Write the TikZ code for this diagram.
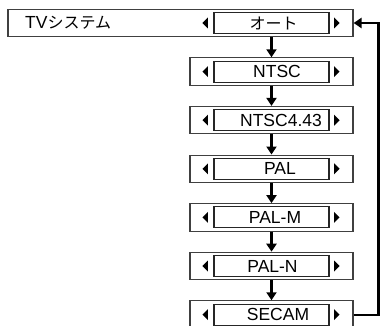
\documentclass[tikz,border=0pt]{standalone}
\usepackage{fontspec}
\setmainfont{Liberation Sans}
\newfontfamily\jpfont{Noto Sans CJK JP}
\newcommand\jp[1]{{\jpfont\fontsize{16}{18}\selectfont #1}}
\usetikzlibrary{arrows.meta, positioning}

\begin{document}
\begin{tikzpicture}[
    x=1pt, y=-1pt,
    outer/.style = {draw=black!75, line width=1.1pt, minimum width=163pt,
                    minimum height=27.5pt, inner sep=0pt},
    inner/.style = {draw=black!85, line width=1.1pt, minimum width=115pt,
                    minimum height=21pt, inner sep=0pt},
    lbl/.style = {font=\fontsize{17.5}{19}\selectfont, inner sep=0pt},
    arrow/.style = {-{Triangle[length=8pt, width=10pt]}, line width=2.2pt}
  ]
    \useasboundingbox (0,0) rectangle (380,326);
    \clip (0,0) rectangle (380,326);

    % menu line
    \node[outer, minimum width=345pt] (bar) at (180.5,23) {};
    \node[lbl, anchor=west] (name) at (25,23) {TV\jp{システム}};
    \node[inner] (v0) at (271.5,23) {};
    \node[lbl, xshift=2pt] (t0) at (v0) {\jp{オート}};

    % choices
    \foreach \i/\txt/\dx in {1/NTSC/5.5, 2/NTSC4.43/9.5, 3/PAL/8.5,
                             4/PAL-M/3.5, 5/PAL-N/1, 6/SECAM/6.5}
    {
      \node[outer] (o\i) at (271.5,23+48.6*\i) {};
      \node[inner] (v\i) at (o\i) {};
      \node[lbl, xshift=\dx pt] (t\i) at (v\i) {\txt};
    }

    % left/right marks
    \foreach \i in {0,...,6}
    {
      \fill ([xshift=-11pt]v\i.west) -- ++(5.5,-5.5) -- ++(0,11) -- cycle;
      \fill ([xshift=10pt]v\i.east) -- ++(-5.5,-5.5) -- ++(0,11) -- cycle;
    }

    \draw[arrow] (v0 |- bar.south) -- (o1.north);
    \foreach \i [evaluate=\i as \j using int(\i+1)] in {1,...,5}
      \draw[arrow] (o\i.south) -- (o\j.north);
    \draw[arrow] (o6.east) -- ++(25,0) |- (bar.east);
  \end{tikzpicture}
\end{document}
